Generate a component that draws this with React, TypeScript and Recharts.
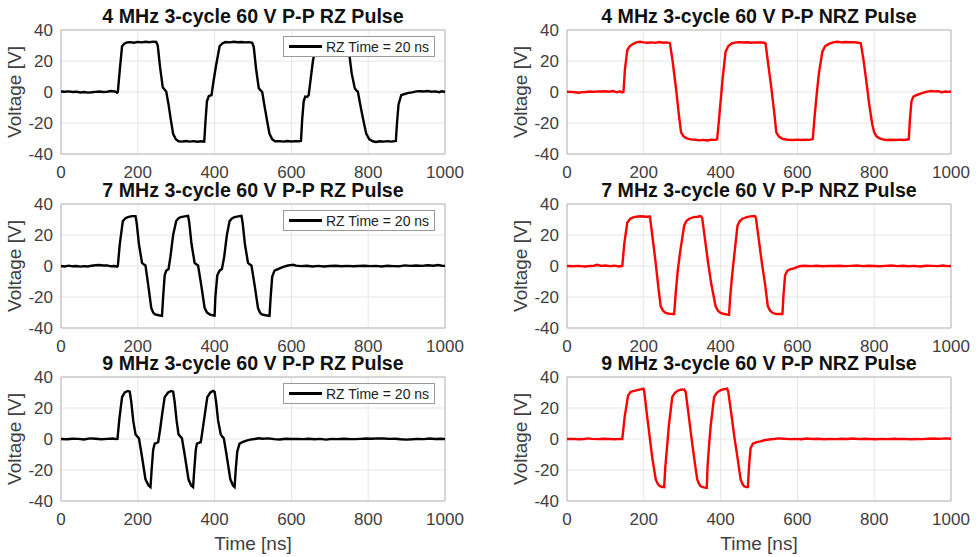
import React from "react";
import { LineChart, Line, XAxis, YAxis, CartesianGrid, ReferenceArea } from "recharts";

type Pt = [number, number];

const X_TICKS = [0, 200, 400, 600, 800, 1000];
const Y_TICKS = [-40, -20, 0, 20, 40];

// time [ns], voltage [V]
const rz4: Pt[] = [
  [0, 0.3], [10, 0.2], [20, 0.4], [30, 0], [40, 0.2], [50, -0.3], [60, 0], [70, -0.4], [80, -0.2], [90, 0.1],
  [100, 0.3], [110, 0], [120, 0.2], [130, 0.6], [140, 0.3], [146, -0.5],
  [148, 0], [153, 14], [159, 29.5], [165, 31.2], [172, 32], [180, 32.2], [190, 31.8], [200, 32.3], [210, 32],
  [220, 32.4], [230, 32.1], [240, 32.5], [248, 32.3],
  [252, 30], [258, 16], [265, 3], [270, 1.5], [274, 0.3], [280, -8], [286, -18], [292, -27], [299, -30.5],
  [306, -31.8], [315, -32], [325, -31.6], [335, -32], [345, -31.7], [355, -32.1], [365, -31.8], [373, -32],
  [376, -20], [380, -6], [385, -2.6], [392, -2], [396, 5], [403, 16], [413, 29.5], [420, 31.3], [428, 32.2],
  [440, 32], [450, 32.4], [460, 32.1], [470, 32.3], [480, 32], [490, 32.2], [498, 31.8],
  [502, 29], [508, 15], [515, 2.5], [520, 1], [524, 0], [530, -9], [537, -19], [543, -27], [550, -30.5],
  [557, -31.8], [570, -31.7], [580, -32], [590, -31.6], [600, -31.9], [610, -31.7], [620, -31.8], [625, -31.5],
  [628, -18], [632, -6], [636, -3], [641, -3.2], [645, -2], [650, 8], [656, 20], [664, 29.5], [672, 31.3],
  [680, 32.2], [690, 32], [700, 32.4], [710, 32.1], [720, 32.3], [730, 32], [740, 32.2], [747, 32],
  [751, 24], [757, 12], [765, 2.5], [769, 1], [773, 0.3], [780, -9], [788, -19], [795, -27], [803, -30.5],
  [812, -31.8], [820, -32.2], [830, -31.8], [840, -32], [850, -31.7], [860, -32], [872, -31.6],
  [875, -20], [879, -8], [886, -2], [895, -1.3], [905, -0.6], [915, -0.2], [925, 0.4], [935, 0.5], [945, 0.3],
  [955, 0.6], [965, 0.2], [975, 0.4], [985, -0.1], [992, 0.5], [1000, 0],
];

const nrz4: Pt[] = [
  [0, 0.2], [10, 0.1], [20, -0.2], [30, -0.5], [40, -0.1], [50, 0], [60, 0.3], [70, 0.1], [80, 0.4], [90, 0.3],
  [100, 0.5], [110, 0.2], [120, 0.6], [130, -0.2], [138, 0.4], [144, -0.3],
  [147, 0], [151, 15], [157, 27], [163, 29.5], [172, 31], [180, 32], [190, 32.4], [200, 32], [210, 31.8],
  [220, 32], [230, 31.7], [240, 32.2], [250, 31.8], [260, 32], [268, 31.5],
  [275, 20], [285, 0], [291, -14], [297, -26], [304, -28.8], [312, -30], [322, -30.6], [335, -30.8],
  [345, -31.2], [355, -30.9], [365, -31.3], [375, -30.8], [385, -30.9], [391, -30.5],
  [395, -20], [400, -6], [405, 8], [413, 26], [420, 29.5], [428, 31.2], [440, 32], [450, 32.2], [460, 31.9],
  [470, 32.1], [480, 31.8], [490, 32], [500, 31.9], [510, 32], [517, 31.4],
  [525, 16], [532, 3], [540, -14], [545, -26], [552, -28.8], [561, -30.2], [575, -30.8], [590, -31],
  [600, -30.7], [610, -31], [620, -30.8], [630, -30.9], [640, -30.4],
  [644, -18], [650, -2], [656, 12], [665, 26], [672, 29.5], [682, 31], [695, 32.2], [705, 32.4], [715, 32],
  [725, 32.3], [735, 32.1], [745, 32.2], [755, 31.9], [765, 31.5],
  [772, 21], [780, 6], [787, -8], [795, -21], [800, -26], [806, -28.6], [813, -29.8], [822, -30.6],
  [832, -31], [845, -30.8], [855, -31], [865, -30.7], [878, -31], [890, -30.5],
  [893, -18], [897, -6], [902, -3], [910, -2], [921, -1], [930, -0.3], [938, 0.2], [948, 0.6], [958, 0.4],
  [968, 0.5], [975, -0.2], [985, 0.3], [993, 0.1], [1000, 0.3],
];

const rz7: Pt[] = [
  [0, 0], [10, -0.3], [20, 0.2], [30, -0.2], [40, 0], [50, -0.4], [60, -0.1], [70, -0.3], [80, 0.2], [90, 0.5],
  [100, 0.6], [110, 0.3], [120, 0.4], [130, -0.2], [140, 0], [146, -0.4],
  [148, 0], [153, 14], [161, 29], [168, 30.8], [174, 31.5], [185, 32.2], [194, 32.2],
  [197, 28], [203, 14], [211, 2], [216, 1], [220, 0.3], [227, -12], [235, -27], [240, -30], [245, -31.2],
  [255, -31.8], [263, -32.2],
  [266, -20], [270, -6], [274, -3], [280, -2], [285, 6], [292, 20], [300, 29], [306, 30.8], [312, 31.5],
  [322, 32], [331, 32.3],
  [334, 28], [340, 14], [348, 2], [353, 1], [357, 0.3], [365, -12], [374, -27], [380, -30], [387, -31.2],
  [395, -31.8], [400, -32],
  [402, -20], [407, -6], [413, -3], [419, -2], [425, 6], [432, 20], [439, 29], [446, 30.8], [452, 31.5],
  [462, 32], [470, 32.3],
  [473, 28], [479, 14], [487, 2], [492, 1], [496, 0.3], [504, -12], [513, -27], [518, -30], [523, -31.2],
  [533, -31.8], [543, -32.2],
  [546, -20], [550, -7], [556, -3], [565, -2], [574, -1], [583, -0.2], [591, 0.3], [598, 0.6], [604, 0.8],
  [612, 0.2], [625, -0.1], [640, 0.2], [655, -0.3], [670, 0.1], [685, -0.3], [700, 0], [715, 0.2],
  [730, -0.2], [745, 0.1], [760, -0.2], [775, 0], [790, 0.2], [805, -0.1], [820, 0.1], [835, -0.3],
  [850, 0.2], [865, -0.1], [880, -0.2], [895, 0.4], [910, 0.1], [925, 0.3], [940, 0.1], [955, 0.5],
  [970, 0.2], [982, 0.6], [992, 0.2], [1000, 0.1],
];

const nrz7: Pt[] = [
  [0, 0], [15, -0.2], [30, 0.1], [45, -0.3], [60, 0], [70, 0.2], [79, 0.8], [88, 0.1], [100, 0.3],
  [112, -0.1], [124, 0.2], [135, -0.3], [141, 0],
  [144, 0], [149, 14], [157, 28], [165, 30.5], [174, 31.5], [185, 31.9], [195, 32.1], [205, 31.8], [216, 31.9],
  [222, 20], [230, 4], [238, -14], [244, -26], [250, -28.8], [257, -30.2], [266, -30.8], [279, -31],
  [283, -18], [288, -4], [294, 8], [305, 26], [311, 29], [318, 30.5], [330, 31.5], [340, 31.8], [348, 32.2],
  [352, 31], [360, 16], [368, 1], [376, -12], [387, -26], [393, -28.8], [400, -30.2], [410, -31], [422, -31.5],
  [425, -20], [430, -6], [436, 8], [444, 26], [450, 29], [457, 30.5], [468, 31.5], [478, 32], [489, 32.3],
  [492, 31], [500, 16], [508, 1], [516, -12], [523, -26], [529, -28.8], [535, -30.2], [545, -31], [561, -31],
  [564, -18], [568, -6], [574, -3], [582, -2], [591, -1.5], [600, -0.6], [609, 0], [620, 0.2], [635, -0.1],
  [650, 0.2], [665, -0.2], [680, 0.1], [695, 0], [710, 0.2], [725, -0.1], [740, 0.1], [755, 0.3],
  [770, -0.1], [785, 0.2], [800, 0], [815, -0.2], [830, 0.1], [845, 0.3], [860, -0.1], [875, 0.2],
  [890, -0.2], [905, 0.1], [920, -0.3], [935, 0.2], [950, 0.1], [965, -0.1], [980, 0.3], [990, -0.1], [1000, 0],
];

const rz9: Pt[] = [
  [0, 0], [15, -0.2], [30, 0.2], [45, 0.1], [60, -0.3], [75, 0.4], [90, 0.2], [105, -0.2], [120, 0.1],
  [135, 0.3], [144, -0.1],
  [147, 0], [152, 13], [159, 27], [166, 30], [174, 31], [179, 30.5],
  [183, 24], [188, 12], [194, 3], [199, 1.5], [203, 0.5], [210, -10], [220, -26], [228, -30], [233, -31],
  [236, -20], [240, -7], [244, -3], [249, -2.5], [253, -2], [258, 6], [264, 17], [270, 27], [279, 30],
  [287, 31], [292, 30.5],
  [296, 24], [301, 12], [306, 3], [311, 1.5], [315, 0.5], [322, -10], [332, -26], [339, -30], [344, -31],
  [347, -20], [351, -7], [354, -3], [359, -2.5], [364, -2], [370, 8], [381, 27], [389, 30], [396, 31],
  [400, 30.5],
  [404, 24], [409, 12], [416, 3], [420, 1.5], [424, 0.5], [431, -10], [441, -26], [448, -30], [452, -31],
  [455, -20], [459, -8], [465, -3], [474, -1.8], [483, -1], [493, -0.4], [504, 0], [515, 0.5], [525, 0.2],
  [540, 0.4], [555, -0.1], [570, -0.3], [585, 0.2], [600, 0], [615, 0.1], [630, -0.1], [645, 0.2],
  [660, -0.2], [675, 0.1], [690, -0.4], [705, 0.1], [720, -0.1], [735, 0.2], [750, 0], [765, -0.1],
  [780, 0.1], [795, 0.3], [810, 0.2], [825, 0.4], [840, 0.3], [855, 0.1], [870, 0.2], [885, -0.2],
  [900, -0.4], [915, -0.2], [930, 0.1], [945, -0.1], [960, 0.3], [975, 0], [990, 0.2], [1000, -0.1],
];

const nrz9: Pt[] = [
  [0, 0], [15, 0.1], [30, -0.2], [45, 0], [55, 0.4], [65, 0.1], [80, -0.1], [95, 0.2], [110, 0],
  [125, -0.2], [138, 0.1], [141, 0],
  [144, 0], [150, 14], [159, 28], [166, 30.5], [175, 31], [183, 31.5], [191, 32], [199, 32.5],
  [201, 31], [208, 16], [215, 2], [222, -12], [231, -26], [236, -28.8], [240, -30], [246, -30.8], [253, -31],
  [256, -18], [261, -4], [265, 8], [274, 27], [280, 29.5], [287, 31], [296, 31.8], [305, 32],
  [309, 30.5], [316, 17], [324, 1], [331, -12], [339, -26], [344, -29], [348, -30.5], [356, -31.2], [364, -31.5],
  [366, -18], [370, -4], [374, 8], [383, 27], [389, 29.5], [396, 31], [406, 32], [417, 32.5],
  [420, 30.5], [428, 16], [436, 1], [444, -12], [452, -26], [457, -29], [461, -30.5], [467, -31], [471, -31],
  [474, -18], [478, -6], [484, -3], [494, -2], [504, -1.5], [514, -0.8], [522, -0.5], [530, -0.2], [539, 0],
  [550, 0.4], [565, 0.2], [580, -0.1], [595, 0.1], [610, -0.2], [625, 0.3], [640, 0], [655, 0.2],
  [670, -0.2], [685, 0.1], [700, -0.1], [715, 0.2], [730, 0], [745, 0.3], [760, -0.1], [775, 0.2],
  [790, 0], [805, -0.2], [820, 0.1], [835, -0.1], [850, 0.2], [865, 0], [880, 0.1], [895, -0.2],
  [910, 0], [925, -0.1], [940, 0.2], [955, 0.3], [970, 0.1], [985, 0.4], [1000, 0.2],
];

const FONT = '"Liberation Sans", Arial, Helvetica, sans-serif';
const TICK_COLOR = "#404040";
const PLOT_W = 384;
const PLOT_H = 124;

const toRows = (pts: Pt[]) => pts.map(([t, v]) => ({ t, v }));

type PanelProps = {
  pts: Pt[];
  color: string;
  title: string;
  plotLeft: number;
  plotTop: number;
  legend?: boolean;
  xLabel?: boolean;
};

function Panel({ pts, color, title, plotLeft, plotTop, legend, xLabel }: PanelProps) {
  return (
    <>
      <div
        style={{
          position: "absolute",
          left: plotLeft - 40,
          width: PLOT_W + 80,
          top: plotTop - 22,
          height: 16,
          lineHeight: "16px",
          textAlign: "center",
          fontWeight: "bold",
          fontSize: 19.6,
          color: "#111",
          whiteSpace: "nowrap",
        }}
      >
        {title}
      </div>
      <div
        style={{
          position: "absolute",
          left: plotLeft - 46,
          top: plotTop + PLOT_H / 2,
          transform: "translate(-50%, -50%) rotate(-90deg)",
          fontSize: 19,
          color: TICK_COLOR,
          whiteSpace: "nowrap",
        }}
      >
        Voltage [V]
      </div>
      <div style={{ position: "absolute", left: plotLeft - 61, top: plotTop - 30 }}>
        <LineChart
          width={61 + PLOT_W + 30}
          height={30 + PLOT_H + 30}
          data={toRows(pts)}
          margin={{ top: 30, right: 30, left: 0, bottom: 0 }}
        >
          <CartesianGrid stroke="#e6e6e6" />
          <XAxis
            type="number"
            dataKey="t"
            domain={[0, 1000]}
            ticks={X_TICKS}
            height={30}
            axisLine={false}
            tickLine={false}
            tickMargin={6}
            tick={{ fill: TICK_COLOR, fontSize: 17, fontFamily: FONT }}
          />
          <YAxis
            type="number"
            domain={[-40, 40]}
            ticks={Y_TICKS}
            width={61}
            axisLine={false}
            tickLine={false}
            tick={{ fill: TICK_COLOR, fontSize: 17, fontFamily: FONT }}
          />
          <ReferenceArea x1={0} x2={1000} y1={-40} y2={40} fill="none" stroke="#b8b8b8" strokeWidth={1} />
          <Line
            type="linear"
            dataKey="v"
            stroke={color}
            strokeWidth={2.4}
            dot={false}
            isAnimationActive={false}
          />
        </LineChart>
      </div>
      {legend && (
        <div
          style={{
            position: "absolute",
            left: plotLeft + 222,
            top: plotTop + 6,
            width: 152,
            height: 21,
            boxSizing: "border-box",
            border: "1px solid #9a9a9a",
            background: "#fff",
            display: "flex",
            alignItems: "center",
            fontSize: 14,
            color: "#222",
            whiteSpace: "nowrap",
          }}
        >
          <span style={{ display: "inline-block", width: 33, height: 2.5, background: color, marginLeft: 5, marginRight: 4 }} />
          RZ Time = 20 ns
        </div>
      )}
      {xLabel && (
        <div
          style={{
            position: "absolute",
            left: plotLeft,
            width: PLOT_W,
            top: plotTop + PLOT_H + 32,
            textAlign: "center",
            fontSize: 19,
            color: TICK_COLOR,
          }}
        >
          Time [ns]
        </div>
      )}
    </>
  );
}

export default function App() {
  return (
    <div
      style={{
        position: "absolute",
        left: 0,
        top: 0,
        width: 979,
        height: 557,
        background: "#fff",
        fontFamily: FONT,
        overflow: "hidden",
      }}
    >
      <Panel pts={rz4} color="#000" title="4 MHz 3-cycle 60 V P-P RZ Pulse" plotLeft={61} plotTop={30} legend />
      <Panel pts={nrz4} color="#ff0000" title="4 MHz 3-cycle 60 V P-P NRZ Pulse" plotLeft={567} plotTop={30} />
      <Panel pts={rz7} color="#000" title="7 MHz 3-cycle 60 V P-P RZ Pulse" plotLeft={61} plotTop={204} legend />
      <Panel pts={nrz7} color="#ff0000" title="7 MHz 3-cycle 60 V P-P NRZ Pulse" plotLeft={567} plotTop={204} />
      <Panel pts={rz9} color="#000" title="9 MHz 3-cycle 60 V P-P RZ Pulse" plotLeft={61} plotTop={377} legend xLabel />
      <Panel pts={nrz9} color="#ff0000" title="9 MHz 3-cycle 60 V P-P NRZ Pulse" plotLeft={567} plotTop={377} xLabel />
    </div>
  );
}
